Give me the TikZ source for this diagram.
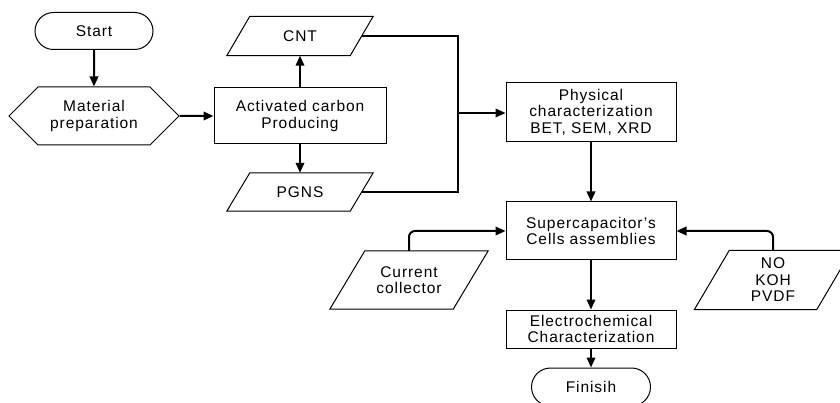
\documentclass[tikz,border=0pt]{standalone}
\usepackage{fontspec}
\setmainfont{Liberation Sans}[LetterSpace=6]
\usetikzlibrary{arrows.meta,positioning,shapes.geometric,shapes.misc,shapes.symbols}

\tikzset{
  box/.style={draw, line width=1pt, align=center, inner sep=2pt},
  term/.style={box, rounded rectangle},
  % parallelogram drawn round the node body, #1 = half of the slant
  io/.style={align=center, inner sep=2pt, append after command={\pgfextra{
      \draw[line width=1pt] ([xshift=#1]\tikzlastnode.north west) -- ([xshift=#1]\tikzlastnode.north east)
        -- ([xshift=-#1]\tikzlastnode.south east) -- ([xshift=-#1]\tikzlastnode.south west) -- cycle;}}},
  hexa/.style={box, signal, signal to=west and east, signal pointer angle=90},
  flow/.style={line width=2pt, -{Triangle[length=10pt,width=8.5pt]}}
}

\begin{document}
\begin{tikzpicture}[x=1pt, y=-1pt, font=\fontsize{15.5}{16.5}\selectfont]
	\useasboundingbox (0,0) rectangle (840,403);

	\node[term, minimum width=122pt, minimum height=37pt] (start) at (94, 31) {Start};
	\node[hexa, minimum width=170pt, minimum height=58pt] (matprep) at (94, 116) {Material\\preparation};
	\node[box, minimum width=172pt, minimum height=56pt] (acprod) at (300, 116) {Activated carbon\\Producing};
	\node[io=11.5pt, minimum width=123pt, minimum height=39pt] (cnt) at (300, 36) {CNT};
	\node[io=11.5pt, minimum width=123pt, minimum height=38pt] (pgns) at (300, 192) {PGNS};

	\node[box, minimum width=170pt, minimum height=59pt] (phys) at (591, 112) {Physical\\characterization\\BET, SEM, XRD};
	\node[box, minimum width=170pt, minimum height=58pt] (cells) at (591, 231) {Supercapacitor's\\Cells assemblies};
	\node[io=17.5pt, minimum width=123pt, minimum height=58pt] (cc) at (409, 280) {Current\\collector};
	\node[io=17.5pt, minimum width=122pt, minimum height=59pt] (elyte) at (773, 280) {NO\\KOH\\PVDF};
	\node[box, minimum width=170pt, minimum height=38pt] (echem) at (591, 329) {Electrochemical\\Characterization};
	\node[term, minimum width=123pt, minimum height=38pt] (finish) at (591, 387) {Finisih};

	\coordinate (join) at (458, 113);

	\draw[flow] (start) -- (matprep);
	\draw[flow] (matprep) -- (acprod);
	\draw[flow] (acprod) -- (cnt);
	\draw[flow] (acprod) -- (pgns);
	\draw[line width=2pt] (cnt.east) -| (join) |- (pgns.east);
	\draw[flow] (join) -- (join -| phys.west);
	\draw[flow] (phys) -- (cells);
	\draw[flow, rounded corners=6pt] (cc.north) |- (cells.west);
	\draw[flow, rounded corners=6pt] (elyte.north) |- (cells.east);
	\draw[flow] (cells) -- (echem);
	\draw[flow] (echem) -- (finish);
\end{tikzpicture}
\end{document}
